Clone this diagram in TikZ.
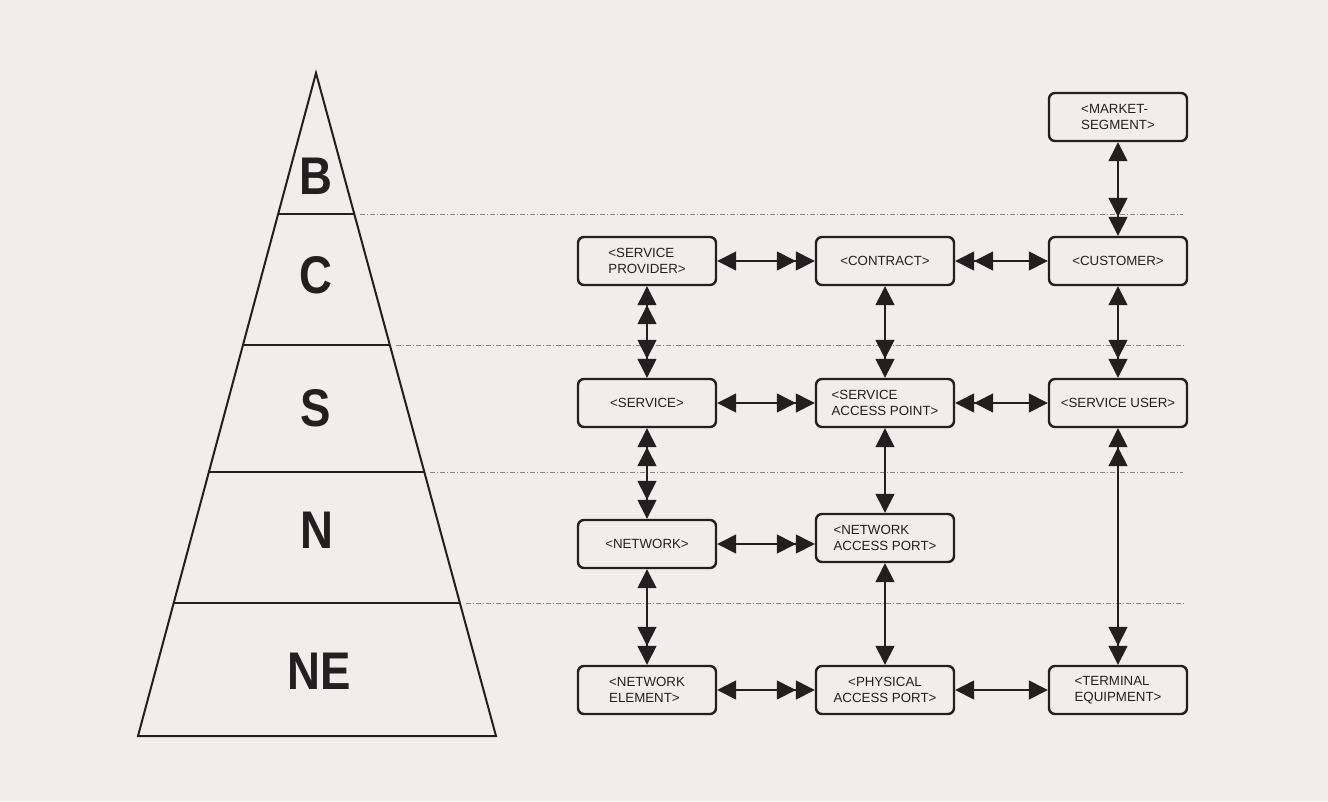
\documentclass[tikz,border=0pt]{standalone}
\usepackage{fontspec}
\setmainfont{Liberation Sans}
\usetikzlibrary{arrows.meta,calc}
\definecolor{paper}{RGB}{242,236,236}
\definecolor{ink}{RGB}{35,31,32}
\definecolor{guide}{RGB}{140,135,135}
\newcommand{\lvl}[1]{\scalebox{0.86}[1]{#1}}
\tikzset{
  entity/.style={draw=ink, line width=2.4pt, rounded corners=6pt,
    minimum width=138pt, minimum height=48pt, inner sep=2pt,
    font=\fontsize{13.3}{16.5}\selectfont, text=ink, align=left},
  link/.style={draw=ink, line width=1.4pt},
  >={Triangle[length=19pt,width=19pt,sep=0pt]},
  level/.style={font=\fontsize{53}{53}\selectfont\bfseries, text=ink, inner sep=0pt},
  guideline/.style={draw=guide, line width=0.7pt,
    dash pattern=on 5pt off 2pt on 1pt off 2pt},
  pyr/.style={draw=ink, line width=2pt, line join=miter},
}
\begin{document}
\begin{tikzpicture}[x=1pt, y=-1pt]
  \fill[paper] (0,0) rectangle (1328,801);
  \useasboundingbox (0,0) rectangle (1328,801);

  % layered pyramid
  \coordinate (apex) at (316,73);
  \coordinate (bl) at (138,736);
  \coordinate (br) at (496,736);
  \coordinate (gend) at (1183,0);
  \draw[pyr] (apex) -- (bl) -- (br) -- cycle;
  \foreach \t/\n in {0.2127/1, 0.4103/2, 0.6018/3, 0.7994/4} {
    \coordinate (l\n) at ($(apex)!\t!(bl)$);
    \coordinate (r\n) at ($(apex)!\t!(br)$);
    \draw[pyr] (l\n) -- (r\n);
    \draw[guideline] ([xshift=6pt]r\n) -- (gend |- r\n);
  }
  \node[level] (lb)  at (316,176) {\lvl{B}};
  \node[level] (lc)  at (316,275) {\lvl{C}};
  \node[level] (ls)  at (316,408) {\lvl{S}};
  \node[level] (ln)  at (317,530) {\lvl{N}};
  \node[level] (lne) at (319,671) {\lvl{NE}};

  % entities
  \node[entity] (market)   at (1118,117) {<MARKET-\\SEGMENT>};
  \node[entity] (sp)       at (647,261)  {<SERVICE\\PROVIDER>};
  \node[entity] (contract) at (885,261)  {<CONTRACT>};
  \node[entity] (customer) at (1118,261) {<CUSTOMER>};
  \node[entity] (service)  at (647,403)  {<SERVICE>};
  \node[entity] (sap)      at (885,403)  {<SERVICE\\ACCESS POINT>};
  \node[entity] (su)       at (1118,403) {<SERVICE USER>};
  \node[entity] (network)  at (647,544)  {<NETWORK>};
  \node[entity] (nap)      at (885,538)  {<NETWORK\\ACCESS PORT>};
  \node[entity] (ne)       at (647,690)  {<NETWORK\\ELEMENT>};
  \node[entity, align=center] (pap) at (885,690) {<PHYSICAL\\ACCESS PORT>};
  \node[entity] (term)     at (1118,690) {<TERMINAL\\EQUIPMENT>};

  % horizontal relations
  \draw[link, <->>] (sp.east) -- (contract.west);
  \draw[link, <<->] (contract.east) -- (customer.west);
  \draw[link, <->>] (service.east) -- (sap.west);
  \draw[link, <<->] (sap.east) -- (su.west);
  \draw[link, <->>] (network.east) -- (network.east -| nap.west);
  \draw[link, <->>] (ne.east) -- (pap.west);
  \draw[link, <->] (pap.east) -- (term.west);

  % vertical relations
  \draw[link, <->>] (market.south) -- (customer.north);
  \draw[link, <<->>] (sp.south) -- (service.north);
  \draw[link, <->>] (contract.south) -- (sap.north);
  \draw[link, <->>] (customer.south) -- (su.north);
  \draw[link, <<->>] (service.south) -- (network.north);
  \draw[link, <->] (sap.south) -- (nap.north);
  \draw[link, <<->>] (su.south) -- (term.north);
  \draw[link, <->>] (network.south) -- (ne.north);
  \draw[link, <->] (nap.south) -- (pap.north);
\end{tikzpicture}
\end{document}
